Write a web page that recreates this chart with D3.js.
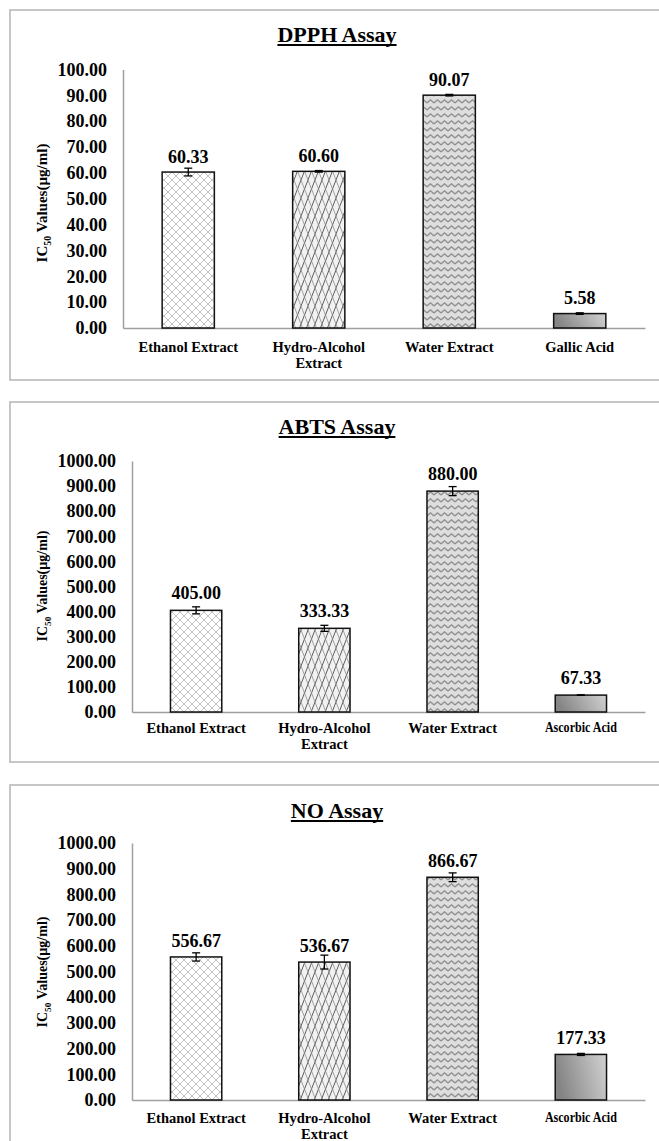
<!DOCTYPE html>
<html>
<head>
<meta charset="utf-8">
<script src="https://cdn.jsdelivr.net/npm/d3@7"></script>
<style>
  html, body { margin: 0; padding: 0; background: #ffffff; }
  svg { display: block; }
  text { font-family: "Liberation Serif", "Times New Roman", serif; font-weight: bold; fill: #000; }
</style>
</head>
<body>
<svg id="chart" width="659" height="1141"></svg>
<script>
// ---- Data ----
const dpphCategories = ["Ethanol Extract", "Hydro-Alcohol\nExtract", "Water Extract", "Gallic Acid"];
const dpphValues = [60.33, 60.60, 90.07, 5.58];
const dpphErrors = [1.5, 0.3, 0.3, 0.3];
const dpphTicks = [0, 10, 20, 30, 40, 50, 60, 70, 80, 90, 100];

const abtsCategories = ["Ethanol Extract", "Hydro-Alcohol\nExtract", "Water Extract", "Ascorbic Acid"];
const abtsValues = [405.00, 333.33, 880.00, 67.33];
const abtsErrors = [14, 12, 18, 1];
const abtsTicks = [0, 100, 200, 300, 400, 500, 600, 700, 800, 900, 1000];

const noCategories = ["Ethanol Extract", "Hydro-Alcohol\nExtract", "Water Extract", "Ascorbic Acid"];
const noValues = [556.67, 536.67, 866.67, 177.33];
const noErrors = [16, 27, 17, 4];
const noTicks = [0, 100, 200, 300, 400, 500, 600, 700, 800, 900, 1000];

const fills = ["url(#crossHatch)", "url(#trellis)", "url(#zigzag)", "url(#greyGrad)"];

const svg = d3.select("#chart");

// ---- Fill patterns ----
const defs = svg.append("defs");

// small light diamonds
const ch = defs.append("pattern").attr("id", "crossHatch")
  .attr("patternUnits", "userSpaceOnUse").attr("width", 8).attr("height", 8);
ch.append("rect").attr("width", 8).attr("height", 8).attr("fill", "#ffffff");
ch.append("path").attr("d", "M0,0 L8,8 M0,8 L8,0 M-1,1 L1,-1 M7,9 L9,7 M-1,7 L1,9 M7,-1 L9,1")
  .attr("stroke", "#b2b2b2").attr("stroke-width", 0.8).attr("fill", "none");

// steep, tall diamonds
const tr = defs.append("pattern").attr("id", "trellis")
  .attr("patternUnits", "userSpaceOnUse").attr("width", 7).attr("height", 18);
tr.append("rect").attr("width", 7).attr("height", 18).attr("fill", "#f2f2f2");
tr.append("path").attr("d", "M0,18 L7,0 M-3.5,9 L0,0 M7,18 L10.5,9")
  .attr("stroke", "#5e5e5e").attr("stroke-width", 1).attr("fill", "none");
tr.append("path").attr("d", "M0,0 L7,18 M-3.5,9 L0,18 M7,0 L10.5,9")
  .attr("stroke", "#8c8c8c").attr("stroke-width", 0.8).attr("fill", "none");

// horizontal zigzag waves on light grey
const zz = defs.append("pattern").attr("id", "zigzag")
  .attr("patternUnits", "userSpaceOnUse").attr("width", 7).attr("height", 7);
zz.append("rect").attr("width", 7).attr("height", 7).attr("fill", "#dedede");
zz.append("path").attr("d", "M0,5 L3.5,1.8 L7,5")
  .attr("stroke", "#8e8e8e").attr("stroke-width", 1.3).attr("fill", "none");

const gg = defs.append("linearGradient").attr("id", "greyGrad")
  .attr("x1", 0).attr("y1", 0.2).attr("x2", 1).attr("y2", 0);
gg.append("stop").attr("offset", "0%").attr("stop-color", "#858585");
gg.append("stop").attr("offset", "100%").attr("stop-color", "#d2d2d2");

// ---- One assay panel ----
function drawPanel(p) {
  const g = svg.append("g");

  // frame
  g.append("rect")
    .attr("x", p.box[0]).attr("y", p.box[1])
    .attr("width", p.box[2] - p.box[0]).attr("height", p.box[3] - p.box[1])
    .attr("fill", "none").attr("stroke", "#b4b4b4").attr("stroke-width", 1.5);

  // title, underlined
  const title = g.append("text")
    .attr("x", p.titleX).attr("y", p.titleY)
    .attr("text-anchor", "middle")
    .style("font-size", "22px")
    .text(p.title);
  const tw = title.node().getComputedTextLength();
  g.append("line")
    .attr("x1", p.titleX - tw / 2).attr("x2", p.titleX + tw / 2)
    .attr("y1", p.titleY + 3).attr("y2", p.titleY + 3)
    .attr("stroke", "#000").attr("stroke-width", 1.8);

  const x = d3.scaleBand()
    .domain(p.categories)
    .range([p.left, p.right])
    .paddingInner(0.6)
    .paddingOuter(0.3);

  const y = d3.scaleLinear()
    .domain([p.ticks[0], p.ticks[p.ticks.length - 1]])
    .range([p.bottom, p.top]);

  // y axis
  const yAxis = g.append("g")
    .attr("transform", `translate(${p.left},0)`)
    .call(d3.axisLeft(y).tickValues(p.ticks).tickFormat(d3.format(".2f")).tickSize(0).tickPadding(16));
  yAxis.select(".domain").attr("stroke", "#9f9f9f").attr("stroke-width", 1.5);
  yAxis.selectAll("text")
    .style("font-family", "'Liberation Serif', serif")
    .style("font-weight", "bold")
    .style("font-size", "18px")
    .attr("fill", "#000");

  // x axis
  const xAxis = g.append("g")
    .attr("transform", `translate(0,${p.bottom})`)
    .call(d3.axisBottom(x).tickSize(0).tickFormat(""));
  xAxis.select(".domain").attr("stroke", "#9f9f9f").attr("stroke-width", 1.5);

  // category labels (may wrap onto a second line)
  p.categories.forEach((c, i) => {
    const lines = c.split("\n");
    const cx = x(c) + x.bandwidth() / 2;
    const t = g.append("text")
      .attr("x", cx).attr("y", p.labelY)
      .attr("text-anchor", "middle")
      .style("font-size", "14.5px");
    lines.forEach((ln, k) => {
      t.append("tspan").attr("x", cx).attr("dy", k === 0 ? 0 : 16).text(ln);
    });
    if (c === "Ascorbic Acid") {
      t.style("font-size", "14.5px").attr("y", p.labelY - 1)
        .attr("textLength", 72).attr("lengthAdjust", "spacingAndGlyphs");
    }
  });

  // y axis title with subscript
  const yt = g.append("text")
    .attr("transform", `translate(${p.yTitleX},${p.yTitleY}) rotate(-90)`)
    .attr("text-anchor", "middle")
    .style("font-size", p.yTitleSize + "px");
  yt.append("tspan").text("IC");
  yt.append("tspan").attr("dy", 4).style("font-size", (p.yTitleSize * 0.65) + "px").text("50");
  yt.append("tspan").attr("dy", -4).text(" Values(\u00b5g/ml)");

  const rows = p.categories.map((c, i) => ({ c, v: p.values[i], e: p.errors[i], f: fills[i] }));

  // bars
  g.selectAll("rect.bar").data(rows).join("rect")
    .attr("class", "bar")
    .attr("x", d => x(d.c))
    .attr("y", d => y(d.v))
    .attr("width", x.bandwidth())
    .attr("height", d => y(0) - y(d.v))
    .attr("fill", d => d.f)
    .attr("stroke", "#111")
    .attr("stroke-width", 1.5);

  // error bars
  const eb = g.selectAll("g.err").data(rows).join("g").attr("class", "err");
  eb.append("line")
    .attr("x1", d => x(d.c) + x.bandwidth() / 2).attr("x2", d => x(d.c) + x.bandwidth() / 2)
    .attr("y1", d => y(d.v + d.e)).attr("y2", d => y(d.v - d.e))
    .attr("stroke", "#000").attr("stroke-width", 1.3);
  ["+", "-"].forEach(s => {
    eb.append("line")
      .attr("x1", d => x(d.c) + x.bandwidth() / 2 - 4).attr("x2", d => x(d.c) + x.bandwidth() / 2 + 4)
      .attr("y1", d => y(s === "+" ? d.v + d.e : d.v - d.e))
      .attr("y2", d => y(s === "+" ? d.v + d.e : d.v - d.e))
      .attr("stroke", "#000").attr("stroke-width", 1.3);
  });

  // value labels
  g.selectAll("text.val").data(rows).join("text")
    .attr("class", "val")
    .attr("x", d => x(d.c) + x.bandwidth() / 2)
    .attr("y", d => y(d.v) - p.valueGap)
    .attr("text-anchor", "middle")
    .style("font-size", "18px")
    .text(d => d3.format(".2f")(d.v));
}

drawPanel({
  title: "DPPH Assay", titleX: 337, titleY: 42,
  box: [10, 10, 662, 380],
  left: 123, right: 645, top: 69.5, bottom: 328,
  labelY: 352, yTitleX: 47, yTitleY: 203, yTitleSize: 15, valueGap: 9.5,
  categories: dpphCategories, values: dpphValues, errors: dpphErrors, ticks: dpphTicks
});

drawPanel({
  title: "ABTS Assay", titleX: 337, titleY: 434,
  box: [10, 402, 662, 762],
  left: 132, right: 645, top: 461, bottom: 712,
  labelY: 733, yTitleX: 47, yTitleY: 586, yTitleSize: 14, valueGap: 11.5,
  categories: abtsCategories, values: abtsValues, errors: abtsErrors, ticks: abtsTicks
});

drawPanel({
  title: "NO Assay", titleX: 337, titleY: 818,
  box: [10, 785, 662, 1160],
  left: 132, right: 645, top: 843, bottom: 1100,
  labelY: 1123, yTitleX: 47, yTitleY: 972, yTitleSize: 14, valueGap: 10,
  categories: noCategories, values: noValues, errors: noErrors, ticks: noTicks
});
</script>
</body>
</html>
